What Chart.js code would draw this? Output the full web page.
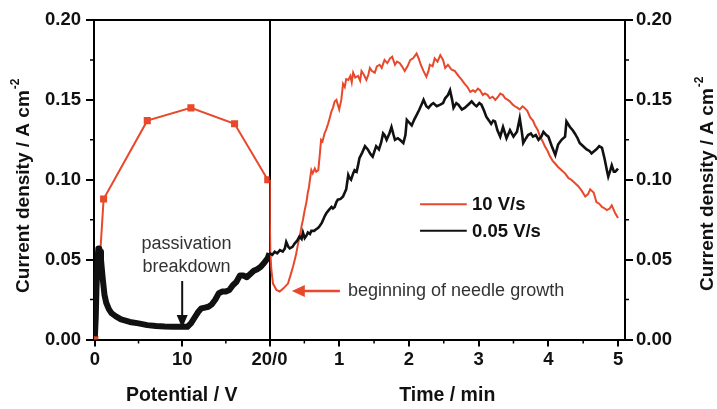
<!DOCTYPE html>
<html>
<head>
<meta charset="utf-8">
<script src="https://cdn.jsdelivr.net/npm/chart.js@4/dist/chart.umd.min.js"></script>
<style>
html,body{margin:0;padding:0;background:#fff;}
#wrap{width:717px;height:409px;position:relative;}
</style>
</head>
<body>
<div id="wrap"><canvas id="c"></canvas></div>
<script>
// ---------- data ----------
const seriesLabels = ['10 V/s', '0.05 V/s'];
const seriesColors = ['#e8482b', '#111111'];

// left panel: potential sweep (V)
const potentialRed = [0, 1, 6, 11, 16, 19.8];
const currentRedPotential = [0.000, 0.088, 0.137, 0.145, 0.135, 0.100];

const potentialBlack = [
  0, 0.1, 0.2, 0.3, 0.4, 0.5, 0.6, 0.7, 0.8, 0.9,
  1.1, 1.3, 1.6, 1.9, 2.4, 3.0, 4.0, 5.0, 6.0, 7.0,
  8.0, 9.0, 10.0, 10.6, 11.0, 11.4, 11.8, 12.2, 12.6, 13.0,
  13.4, 13.8, 14.2, 14.6, 15.0, 15.4, 15.8, 16.2, 16.6, 17.0,
  17.4, 17.8, 18.2, 18.6, 19.0, 19.4, 19.8, 20.0
];
const currentBlackPotential = [
  0.002, 0.014, 0.036, 0.050, 0.057, 0.057, 0.055, 0.050, 0.044, 0.038,
  0.028, 0.023, 0.019, 0.0165, 0.0145, 0.0126, 0.011, 0.0101, 0.009, 0.0084,
  0.0081, 0.008, 0.008, 0.008, 0.0101, 0.0135, 0.017, 0.0195, 0.020, 0.0205,
  0.022, 0.025, 0.029, 0.030, 0.030, 0.031, 0.034, 0.036, 0.040, 0.040,
  0.039, 0.041, 0.043, 0.044, 0.0455, 0.048, 0.051, 0.054
];

// right panel: time (min)
const timeRed = [
  0, 0.005, 0.012, 0.026, 0.05, 0.10, 0.146, 0.20, 0.265, 0.30,
  0.34, 0.38, 0.41, 0.44, 0.46, 0.48, 0.505, 0.53, 0.55, 0.565,
  0.58, 0.60, 0.62, 0.65, 0.67, 0.70, 0.72, 0.74, 0.76, 0.79,
  0.81, 0.84, 0.86, 0.89, 0.91, 0.935, 0.96, 0.98, 1.00, 1.03,
  1.055, 1.08, 1.10, 1.13, 1.16, 1.18, 1.20, 1.23, 1.27, 1.30,
  1.32, 1.35, 1.39, 1.42, 1.44, 1.47, 1.51, 1.54, 1.58, 1.61,
  1.65, 1.69, 1.73, 1.76, 1.80, 1.83, 1.87, 1.90, 1.94, 1.98,
  2.02, 2.06, 2.11, 2.14, 2.17, 2.21, 2.25, 2.28, 2.30, 2.34,
  2.37, 2.41, 2.45, 2.49, 2.52, 2.56, 2.61, 2.66, 2.71, 2.75,
  2.80, 2.84, 2.88, 2.92, 2.95, 2.99, 3.02, 3.06, 3.09, 3.13,
  3.16, 3.20, 3.24, 3.28, 3.31, 3.35, 3.38, 3.42, 3.45, 3.49,
  3.52, 3.56, 3.59, 3.63, 3.66, 3.70, 3.74, 3.78, 3.81, 3.85,
  3.88, 3.92, 3.95, 3.99, 4.02, 4.06, 4.10, 4.14, 4.19, 4.24,
  4.29, 4.33, 4.38, 4.43, 4.48, 4.53, 4.57, 4.60, 4.65, 4.69,
  4.73, 4.77, 4.81, 4.84, 4.88, 4.91, 4.94, 4.96, 5.00
];
const currentRedTime = [
  0.100, 0.075, 0.055, 0.044, 0.035, 0.031, 0.030, 0.032, 0.035, 0.040,
  0.046, 0.053, 0.060, 0.066, 0.071, 0.075, 0.081, 0.086, 0.092, 0.095,
  0.100, 0.106, 0.104, 0.107, 0.105, 0.106, 0.115, 0.125, 0.124, 0.129,
  0.131, 0.135, 0.138, 0.143, 0.145, 0.149, 0.150, 0.147, 0.144, 0.150,
  0.160, 0.158, 0.163, 0.1625, 0.165, 0.161, 0.167, 0.164, 0.165, 0.162,
  0.168, 0.166, 0.1625, 0.166, 0.170, 0.168, 0.167, 0.171, 0.172, 0.170,
  0.175, 0.173, 0.176, 0.177, 0.172, 0.174, 0.173, 0.171, 0.168, 0.171,
  0.175, 0.176, 0.179, 0.176, 0.172, 0.168, 0.1645, 0.168, 0.172, 0.171,
  0.176, 0.174, 0.178, 0.175, 0.170, 0.172, 0.169, 0.168, 0.165, 0.163,
  0.160, 0.158, 0.155, 0.156, 0.155, 0.157, 0.156, 0.153, 0.154, 0.153,
  0.151, 0.152, 0.150, 0.152, 0.154, 0.153, 0.151, 0.150, 0.149, 0.147,
  0.146, 0.145, 0.144, 0.146, 0.145, 0.143, 0.139, 0.137, 0.134, 0.131,
  0.127, 0.124, 0.121, 0.118, 0.115, 0.112, 0.110, 0.108, 0.106, 0.104,
  0.101, 0.100, 0.098, 0.096, 0.093, 0.0895, 0.091, 0.094, 0.092, 0.086,
  0.085, 0.083, 0.082, 0.081, 0.082, 0.084, 0.081, 0.079, 0.076
];

const timeBlack = [
  0, 0.04, 0.075, 0.11, 0.15, 0.19, 0.22, 0.24, 0.27, 0.29,
  0.33, 0.36, 0.40, 0.43, 0.46, 0.48, 0.505, 0.53, 0.55, 0.58,
  0.60, 0.64, 0.67, 0.70, 0.72, 0.75, 0.77, 0.79, 0.815, 0.85,
  0.89, 0.91, 0.935, 0.96, 0.98, 1.02, 1.055, 1.08, 1.10, 1.13,
  1.15, 1.17, 1.20, 1.22, 1.25, 1.27, 1.29, 1.33, 1.37, 1.39,
  1.41, 1.45, 1.48, 1.53, 1.57, 1.60, 1.63, 1.65, 1.68, 1.72,
  1.75, 1.78, 1.80, 1.84, 1.87, 1.92, 1.95, 1.97, 2.00, 2.04,
  2.08, 2.11, 2.15, 2.18, 2.21, 2.25, 2.28, 2.32, 2.35, 2.40,
  2.45, 2.49, 2.52, 2.56, 2.59, 2.62, 2.64, 2.68, 2.71, 2.76,
  2.80, 2.85, 2.90, 2.94, 2.97, 3.01, 3.04, 3.08, 3.11, 3.15,
  3.18, 3.21, 3.235, 3.27, 3.31, 3.35, 3.40, 3.45, 3.50, 3.55,
  3.59, 3.62, 3.64, 3.68, 3.71, 3.75, 3.78, 3.82, 3.86, 3.90,
  3.93, 3.97, 4.00, 4.05, 4.10, 4.14, 4.19, 4.24, 4.26, 4.31,
  4.35, 4.38, 4.42, 4.45, 4.50, 4.55, 4.59, 4.62, 4.66, 4.69,
  4.73, 4.77, 4.81, 4.84, 4.86, 4.89, 4.91, 4.94, 4.96, 5.00
];
const currentBlackTime = [
  0.054, 0.053, 0.055, 0.054, 0.056, 0.055, 0.057, 0.061, 0.058, 0.057,
  0.058, 0.060, 0.062, 0.0645, 0.063, 0.067, 0.0635, 0.065, 0.067, 0.066,
  0.068, 0.068, 0.069, 0.070, 0.071, 0.073, 0.075, 0.077, 0.079, 0.081,
  0.083, 0.082, 0.083, 0.086, 0.0875, 0.088, 0.0895, 0.092, 0.094, 0.103,
  0.101, 0.100, 0.104, 0.106, 0.105, 0.109, 0.1135, 0.117, 0.121, 0.120,
  0.119, 0.116, 0.1145, 0.121, 0.119, 0.123, 0.129, 0.128, 0.125, 0.129,
  0.133, 0.128, 0.125, 0.126, 0.125, 0.123, 0.128, 0.1375, 0.136, 0.134,
  0.138, 0.1405, 0.144, 0.147, 0.150, 0.146, 0.145, 0.147, 0.148, 0.146,
  0.147, 0.148, 0.151, 0.153, 0.156, 0.150, 0.145, 0.148, 0.147, 0.144,
  0.145, 0.147, 0.149, 0.147, 0.146, 0.148, 0.147, 0.143, 0.1395, 0.137,
  0.135, 0.137, 0.1365, 0.131, 0.127, 0.133, 0.126, 0.131, 0.127, 0.130,
  0.1385, 0.130, 0.123, 0.126, 0.128, 0.129, 0.127, 0.128, 0.125, 0.127,
  0.130, 0.128, 0.127, 0.121, 0.1155, 0.122, 0.125, 0.127, 0.1365, 0.133,
  0.131, 0.129, 0.126, 0.123, 0.121, 0.119, 0.118, 0.1165, 0.118, 0.119,
  0.121, 0.120, 0.1125, 0.106, 0.102, 0.106, 0.109, 0.105, 0.105, 0.107
];

// ticks
const currentMajorTicks = [0, 0.05, 0.10, 0.15, 0.20];
const currentMinorTicks = [0.025, 0.075, 0.125, 0.175];
const potentialTickValues = [0, 10, 20];
const potentialTickLabels = ['0', '10', '20/0'];
const potentialMinorTicks = [5, 15];
const timeTickValues = [1, 2, 3, 4, 5];
const timeTickLabels = ['1', '2', '3', '4', '5'];
const timeMinorTicks = [0.5, 1.5, 2.5, 3.5, 4.5];

const yTitle = 'Current density / A cm';
const yTitleSup = '-2';

// ---------- helpers ----------
const FONT = '"Liberation Sans", Arial, Helvetica, sans-serif';
const near = (a, b) => Math.abs(a - b) < 1e-6;
const inList = (v, list) => list.some(t => near(t, v));
const tickFont = {family: FONT, size: 18.5, weight: 'bold'};
const titleFont = {family: FONT, size: 19.5, weight: 'bold'};
const TXT = '#111';

function pts(xs, ys) { return xs.map((x, i) => ({x: x, y: ys[i]})); }

const overlay = {
  id: 'overlay',
  afterDraw(chart) {
    const {ctx, chartArea: a, scales} = chart;
    const xs = scales.x, xt = scales.x2, ys = scales.y;
    ctx.save();
    // minor ticks
    ctx.strokeStyle = '#000';
    ctx.lineWidth = 1.5;
    ctx.beginPath();
    currentMinorTicks.forEach(v => {
      const py = ys.getPixelForValue(v);
      ctx.moveTo(a.left - 4, py); ctx.lineTo(a.left, py);
      ctx.moveTo(a.right, py); ctx.lineTo(a.right + 4, py);
    });
    potentialMinorTicks.forEach(v => {
      const px = xs.getPixelForValue(v);
      ctx.moveTo(px, a.bottom); ctx.lineTo(px, a.bottom + 4);
    });
    timeMinorTicks.forEach(v => {
      const px = xt.getPixelForValue(v);
      ctx.moveTo(px, a.bottom); ctx.lineTo(px, a.bottom + 4);
    });
    ctx.stroke();

    // y-axis titles (reading bottom-to-top on both sides)
    function yTitleAt(cx, cy) {
      ctx.save();
      ctx.translate(cx, cy);
      ctx.rotate(-Math.PI / 2);
      ctx.fillStyle = TXT;
      ctx.textBaseline = 'middle';
      ctx.textAlign = 'left';
      ctx.font = 'bold 19px ' + FONT;
      const w1 = ctx.measureText(yTitle).width;
      ctx.font = 'bold 12px ' + FONT;
      const w2 = ctx.measureText(yTitleSup).width;
      const start = -(w1 + w2 + 1) / 2;
      ctx.font = 'bold 19px ' + FONT;
      ctx.fillText(yTitle, start, 0);
      ctx.font = 'bold 12px ' + FONT;
      ctx.fillText(yTitleSup, start + w1 + 1, -8);
      ctx.restore();
    }
    const midY = (a.top + a.bottom) / 2;
    yTitleAt(24, midY + 6);
    yTitleAt(708, midY + 4);

    // passivation breakdown annotation
    ctx.fillStyle = '#333';
    ctx.font = '18px ' + FONT;
    ctx.textAlign = 'center';
    ctx.textBaseline = 'middle';
    const pcx = xs.getPixelForValue(10.5);
    ctx.fillText('passivation', pcx, ys.getPixelForValue(0.0597));
    ctx.fillText('breakdown', pcx, ys.getPixelForValue(0.0453));
    const ax = xs.getPixelForValue(10);
    const ay1 = ys.getPixelForValue(0.0366), ay2 = ys.getPixelForValue(0.0072);
    ctx.strokeStyle = '#111'; ctx.fillStyle = '#111'; ctx.lineWidth = 2;
    ctx.beginPath(); ctx.moveTo(ax, ay1); ctx.lineTo(ax, ay2 - 10); ctx.stroke();
    ctx.beginPath(); ctx.moveTo(ax - 5.5, ay2 - 13); ctx.lineTo(ax + 5.5, ay2 - 13); ctx.lineTo(ax, ay2); ctx.closePath(); ctx.fill();

    // needle growth annotation
    const ny = ys.getPixelForValue(0.0303);
    const tipX = xt.getPixelForValue(0.32), tailX = xt.getPixelForValue(1.01);
    ctx.strokeStyle = seriesColors[0]; ctx.fillStyle = seriesColors[0]; ctx.lineWidth = 2.5;
    ctx.beginPath(); ctx.moveTo(tailX, ny); ctx.lineTo(tipX + 10, ny); ctx.stroke();
    ctx.beginPath(); ctx.moveTo(tipX + 13, ny - 6); ctx.lineTo(tipX + 13, ny + 6); ctx.lineTo(tipX, ny); ctx.closePath(); ctx.fill();
    ctx.fillStyle = '#333';
    ctx.font = '18px ' + FONT;
    ctx.textAlign = 'left';
    ctx.fillText('beginning of needle growth', xt.getPixelForValue(1.126), ys.getPixelForValue(0.0306));

    // legend
    const lx1 = xt.getPixelForValue(2.16), lx2 = xt.getPixelForValue(2.83), ltx = xt.getPixelForValue(2.905);
    const legendY = [0.0847, 0.068];
    ctx.font = 'bold 18.5px ' + FONT;
    seriesLabels.forEach((lab, i) => {
      const py = ys.getPixelForValue(legendY[i]);
      ctx.strokeStyle = seriesColors[i];
      ctx.lineWidth = 2;
      ctx.beginPath(); ctx.moveTo(lx1, py); ctx.lineTo(lx2, py); ctx.stroke();
      ctx.fillStyle = TXT;
      ctx.textAlign = 'left';
      ctx.textBaseline = 'middle';
      ctx.fillText(lab, ltx, py + 1);
    });
    ctx.restore();
  }
};

const yCommon = {
  type: 'linear', min: 0, max: 0.2,
  ticks: {
    stepSize: 0.025, autoSkip: false, font: tickFont, color: TXT,
    callback: v => inList(v, currentMajorTicks) ? v.toFixed(2) : ''
  },
  border: {color: '#000', width: 2},
  title: {display: false}
};

new Chart(document.getElementById('c'), {
  type: 'line',
  data: {
    datasets: [
      {label: seriesLabels[1], data: pts(potentialBlack, currentBlackPotential), xAxisID: 'x', yAxisID: 'y',
       borderColor: seriesColors[1], borderWidth: 6, pointRadius: 0, tension: 0, order: 0,
       borderJoinStyle: 'round', borderCapStyle: 'butt'},
      {label: seriesLabels[1], data: pts(timeBlack, currentBlackTime), xAxisID: 'x2', yAxisID: 'y',
       borderColor: seriesColors[1], borderWidth: 2.6, pointRadius: 0, tension: 0, order: 1},
      {label: seriesLabels[0], data: pts(potentialRed, currentRedPotential), xAxisID: 'x', yAxisID: 'y',
       borderColor: seriesColors[0], backgroundColor: seriesColors[0], borderWidth: 2,
       pointStyle: 'rect', pointRadius: 5, pointBorderWidth: 0, tension: 0, order: 2},
      {label: seriesLabels[0], data: pts(timeRed, currentRedTime), xAxisID: 'x2', yAxisID: 'y',
       borderColor: seriesColors[0], borderWidth: 2, pointRadius: 0, tension: 0, order: 2}
    ]
  },
  options: {
    responsive: true,
    maintainAspectRatio: false,
    animation: false,
    parsing: true,
    layout: {padding: {top: 20, left: 0, right: 0, bottom: 0}},
    plugins: {legend: {display: false}, tooltip: {enabled: false}},
    scales: {
      x: {
        type: 'linear', position: 'bottom', stack: 'bottomstack', stackWeight: 175.5,
        min: -0.1, max: 20,
        ticks: {
          stepSize: 5, includeBounds: false, autoSkip: false, maxRotation: 0, font: tickFont, color: TXT, padding: 2,
          callback: v => { const i = potentialTickValues.findIndex(t => near(t, v)); return i >= 0 ? potentialTickLabels[i] : ''; }
        },
        grid: {
          color: c => (c.tick && near(c.tick.value, 20)) ? '#000' : 'rgba(0,0,0,0)',
          lineWidth: 2, tickLength: 7, tickWidth: 2,
          tickColor: c => (c.tick && inList(c.tick.value, potentialTickValues)) ? '#000' : 'rgba(0,0,0,0)'
        },
        border: {color: '#000', width: 2},
        title: {display: true, text: 'Potential / V', font: titleFont, color: TXT, padding: {top: 0, bottom: 2}},
        afterFit: s => { s.height = 69.5; }
      },
      x2: {
        type: 'linear', position: 'bottom', stack: 'bottomstack', stackWeight: 355.5,
        min: 0, max: 5.1,
        ticks: {
          stepSize: 0.5, includeBounds: false, autoSkip: false, maxRotation: 0, font: tickFont, color: TXT, padding: 2,
          callback: v => { const i = timeTickValues.findIndex(t => near(t, v)); return i >= 0 ? timeTickLabels[i] : ''; }
        },
        grid: {
          color: 'rgba(0,0,0,0)', lineWidth: 2, tickLength: 7, tickWidth: 2,
          tickColor: c => (c.tick && inList(c.tick.value, timeTickValues)) ? '#000' : 'rgba(0,0,0,0)'
        },
        border: {color: '#000', width: 2},
        title: {display: true, text: 'Time / min', font: titleFont, color: TXT, padding: {top: 0, bottom: 2}},
        afterFit: s => { s.height = 69.5; }
      },
      y: Object.assign({}, yCommon, {
        position: 'left',
        ticks: Object.assign({}, yCommon.ticks, {padding: 5}),
        grid: {
          color: c => (c.tick && near(c.tick.value, 0.2)) ? '#000' : 'rgba(0,0,0,0)',
          lineWidth: 2, tickLength: 8, tickWidth: 2,
          tickColor: c => (c.tick && inList(c.tick.value, currentMajorTicks)) ? '#000' : 'rgba(0,0,0,0)'
        },
        afterFit: s => { s.width = 94; }
      }),
      y2: Object.assign({}, yCommon, {
        position: 'right',
        ticks: Object.assign({}, yCommon.ticks, {padding: 3}),
        grid: {
          drawOnChartArea: false,
          lineWidth: 2, tickLength: 8, tickWidth: 2,
          tickColor: c => (c.tick && inList(c.tick.value, currentMajorTicks)) ? '#000' : 'rgba(0,0,0,0)'
        },
        afterFit: s => { s.width = 92; }
      })
    }
  },
  plugins: [overlay]
});
</script>
</body>
</html>
